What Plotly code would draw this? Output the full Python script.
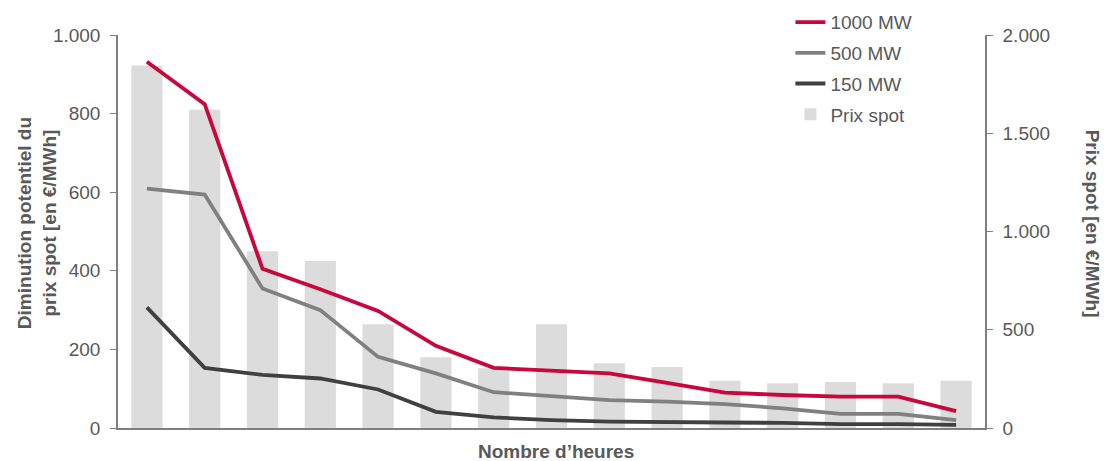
import plotly.graph_objects as go

# Hour buckets (ordered), no tick labels shown on the x axis
heures = list(range(1, 16))

# Spot price per bucket [€/MWh] (right axis)
prix_spot = [1845, 1620, 900, 850, 528, 360, 304, 528, 330, 310, 240, 228, 234, 228, 240]

# Potential spot price reduction [€/MWh] (left axis)
mw_1000 = [932, 824, 405, 353, 298, 209, 153, 145, 139, 115, 90, 84, 80, 80, 43]
mw_500 = [609, 594, 355, 300, 181, 139, 91, 80, 71, 67, 61, 50, 36, 36, 20]
mw_150 = [307, 153, 135, 126, 98, 41, 27, 20, 16, 14, 14, 13, 10, 10, 8]

FONT = "Liberation Sans, Arial, sans-serif"
TXT = "#595959"
AXIS = "#7f7f7f"

fig = go.Figure()

fig.add_trace(go.Bar(
    x=heures, y=prix_spot, name="Prix spot", yaxis="y",
    marker=dict(color="#dcdcdc", line=dict(width=0)),
    legendrank=4, legendgroup="d",
))

for name, vals, col, rank in [
    ("1000 MW", mw_1000, "#c8073c", 1),
    ("500 MW", mw_500, "#808080", 2),
    ("150 MW", mw_150, "#404040", 3),
]:
    fig.add_trace(go.Scatter(
        x=heures, y=vals, name=name, yaxis="y2", mode="lines",
        line=dict(color=col, width=3.8),
        legendrank=rank, legendgroup=name,
    ))

fig.update_layout(
    width=1107, height=461,
    margin=dict(l=118, r=122, t=35, b=33, autoexpand=False),
    paper_bgcolor="white", plot_bgcolor="white",
    separators=",.",
    font=dict(family=FONT, size=19, color=TXT),
    bargap=0.46,
    showlegend=True,
    legend=dict(
        xref="container", yref="container",
        x=0.714, y=0.993, xanchor="left", yanchor="top",
        font=dict(size=19, color=TXT),
        bgcolor="rgba(0,0,0,0)", tracegroupgap=3,
    ),
    xaxis=dict(
        range=[0.5, 15.5], showticklabels=False, ticks="",
        showgrid=False, zeroline=False,
        showline=True, linecolor=AXIS, linewidth=1.5,
    ),
    yaxis=dict(
        side="right", range=[0, 2000], dtick=500, tickformat=",d",
        showgrid=False, zeroline=False,
        showline=True, linecolor=AXIS, linewidth=1.5,
        ticks="outside", ticklen=6, tickcolor=AXIS,
        ticklabelstandoff=6,
    ),
    yaxis2=dict(
        side="left", overlaying="y", range=[0, 1000], dtick=200, tickformat=",d",
        showgrid=False, zeroline=False,
        showline=True, linecolor=AXIS, linewidth=1.5,
        ticks="outside", ticklen=6, tickcolor=AXIS,
        ticklabelstandoff=6,
    ),
    annotations=[
        dict(text="<b>Diminution potentiel du<br>prix spot [en €/MWh]</b>",
             xref="paper", yref="paper", x=-0.094, y=0.52,
             xanchor="center", yanchor="middle", textangle=-90,
             showarrow=False, font=dict(size=19, color=TXT)),
        dict(text="<b>Prix spot [en €/MWh]</b>",
             xref="paper", yref="paper", x=1.1234, y=0.52,
             xanchor="center", yanchor="middle", textangle=90,
             showarrow=False, font=dict(size=19, color=TXT)),
        dict(text="<b>Nombre d’heures</b>",
             xref="paper", yref="paper", x=0.505, y=-0.06,
             xanchor="center", yanchor="middle",
             showarrow=False, font=dict(size=19, color=TXT)),
    ],
)

fig.write_html("out.html")
